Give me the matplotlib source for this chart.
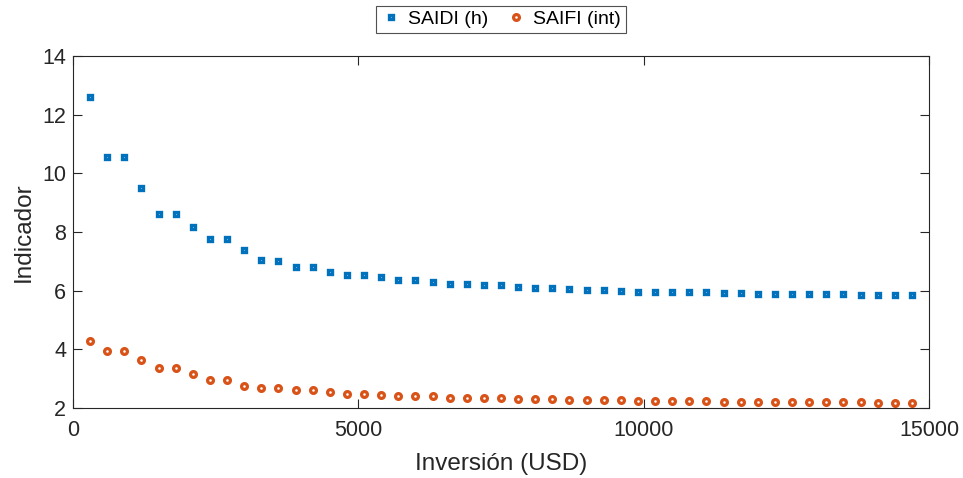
import numpy as np
import matplotlib
matplotlib.use("Agg")
import matplotlib.pyplot as plt

plt.rcParams['font.family'] = ['Liberation Sans', 'DejaVu Sans']

# Investment levels (USD)
inversion = np.arange(300, 14701, 300)

# Reliability indices for each investment level
saidi = [12.60, 10.57, 10.57, 9.49, 8.62, 8.62, 8.16, 7.75, 7.75, 7.37,
         7.06, 7.02, 6.82, 6.82, 6.65, 6.54, 6.54, 6.45, 6.38, 6.38,
         6.30, 6.24, 6.24, 6.19, 6.19, 6.14, 6.10, 6.10, 6.05, 6.02,
         6.02, 5.98, 5.97, 5.97, 5.95, 5.94, 5.94, 5.91, 5.91, 5.90,
         5.89, 5.89, 5.88, 5.87, 5.87, 5.86, 5.86, 5.86, 5.86]
saifi = [4.30, 3.94, 3.94, 3.62, 3.36, 3.36, 3.17, 2.97, 2.97, 2.76,
         2.68, 2.68, 2.60, 2.60, 2.53, 2.47, 2.47, 2.45, 2.42, 2.42,
         2.40, 2.35, 2.35, 2.33, 2.33, 2.31, 2.30, 2.30, 2.28, 2.27,
         2.27, 2.26, 2.25, 2.25, 2.25, 2.24, 2.24, 2.22, 2.22, 2.21,
         2.21, 2.20, 2.20, 2.19, 2.19, 2.19, 2.18, 2.18, 2.18]

series_labels = ["SAIDI (h)", "SAIFI (int)"]
x_ticks = [0, 5000, 10000, 15000]
y_ticks = [2, 4, 6, 8, 10, 12, 14]

blue = "#0072BD"
orange = "#D95319"
axis_color = "#262626"

fig = plt.figure(figsize=(9.63, 4.78), dpi=100)
ax = fig.add_axes([73 / 963, 1 - 408 / 478, (929 - 73) / 963, (408 - 56) / 478])

ax.plot(inversion, saidi, linestyle="none", marker="s", markersize=3.4,
        markerfacecolor="white", markeredgecolor=blue, markeredgewidth=2.4,
        label=series_labels[0])
ax.plot(inversion, saifi, linestyle="none", marker="o", markersize=4.2,
        markerfacecolor="white", markeredgecolor=orange, markeredgewidth=2.3,
        label=series_labels[1])

ax.set_xlim(0, 15000)
ax.set_ylim(2, 14)
ax.set_xticks(x_ticks)
ax.set_yticks(y_ticks)

ax.tick_params(direction="in", length=6.5, width=0.8, colors=axis_color,
               labelsize=15.5, top=True, right=True, pad=5)
ax.tick_params(axis="x", pad=9)
for sp in ax.spines.values():
    sp.set_color(axis_color)
    sp.set_linewidth(0.8)

ax.set_xlabel("Inversión (USD)", fontsize=17.5, color=axis_color, labelpad=8)
ax.set_ylabel("Indicador", fontsize=17.5, color=axis_color, labelpad=5)

leg = ax.legend(loc="lower center", bbox_to_anchor=(0.5, 1.065), ncol=2,
                fontsize=14, frameon=True, fancybox=False, handlelength=1.0,
                handletextpad=0.4, columnspacing=0.9, borderpad=0.25,
                borderaxespad=0)
leg.get_frame().set_edgecolor(axis_color)
leg.get_frame().set_linewidth(0.8)
for t in leg.get_texts():
    t.set_color("black")

fig.savefig("out.png", dpi=100)
